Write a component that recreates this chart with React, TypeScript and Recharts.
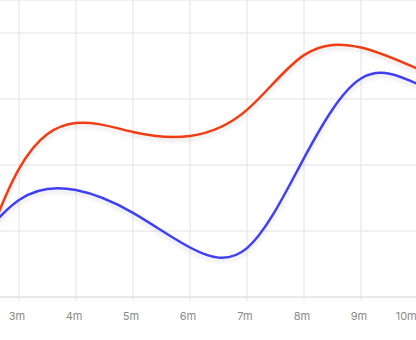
import { LineChart, Line, XAxis, YAxis, CartesianGrid } from 'recharts';

// months on the x axis; 2m sits just left of the visible area
const months = [2, 3, 4, 5, 6, 7, 8, 9, 10];
const redSeries = [-6, 38.8, 52.7, 50.0, 48.8, 56.7, 73.3, 75.6, 69.1];
const blueSeries = [10, 29.4, 32.4, 25.5, 15.0, 14.8, 42.1, 66.2, 64.5];
const xTicks = [3, 4, 5, 6, 7, 8, 9, 10];
const yTicks = [0, 20, 40, 60, 80];

const data = months.map((m, i) => ({ m, red: redSeries[i], blue: blueSeries[i] }));

const App = () => {
  return (
    <div style={{ position: 'absolute', left: 0, top: 0, width: 416, height: 340, overflow: 'hidden', background: '#fff' }}>
      <div style={{ position: 'absolute', left: -38, top: 0 }}>
        <svg width={0} height={0} style={{ position: 'absolute' }}>
          <defs>
            <filter id="lineShadow" x="-10%" y="-10%" width="120%" height="140%">
              <feDropShadow dx="0" dy="3" stdDeviation="2" floodColor="#000" floodOpacity="0.12" />
            </filter>
          </defs>
        </svg>
        <LineChart width={456} height={340} data={data} margin={{ top: 0, right: 0, bottom: 0, left: 0 }}>
          <CartesianGrid stroke="#e2e2e2" strokeWidth={1} />
          <XAxis
            dataKey="m"
            type="number"
            domain={[2, 10]}
            ticks={xTicks}
            tickFormatter={(v: number) => `${v}m`}
            height={43}
            tickSize={4}
            tickMargin={11}
            stroke="#e2e2e2"
            tick={{ fill: '#8a8a8a', fontSize: 11, fontFamily: 'Inter, sans-serif', dx: -2 }}
          />
          <YAxis hide domain={[0, 90]} ticks={yTicks} allowDataOverflow />
          <Line
            type="natural"
            dataKey="red"
            stroke="#f03c14"
            strokeWidth={2.5}
            dot={false}
            activeDot={false}
            style={{ filter: 'url(#lineShadow)' }}
            isAnimationActive={false}
          />
          <Line
            type="natural"
            dataKey="blue"
            stroke="#4040f2"
            strokeWidth={2.5}
            dot={false}
            activeDot={false}
            style={{ filter: 'url(#lineShadow)' }}
            isAnimationActive={false}
          />
        </LineChart>
      </div>
    </div>
  );
};

export default App;
